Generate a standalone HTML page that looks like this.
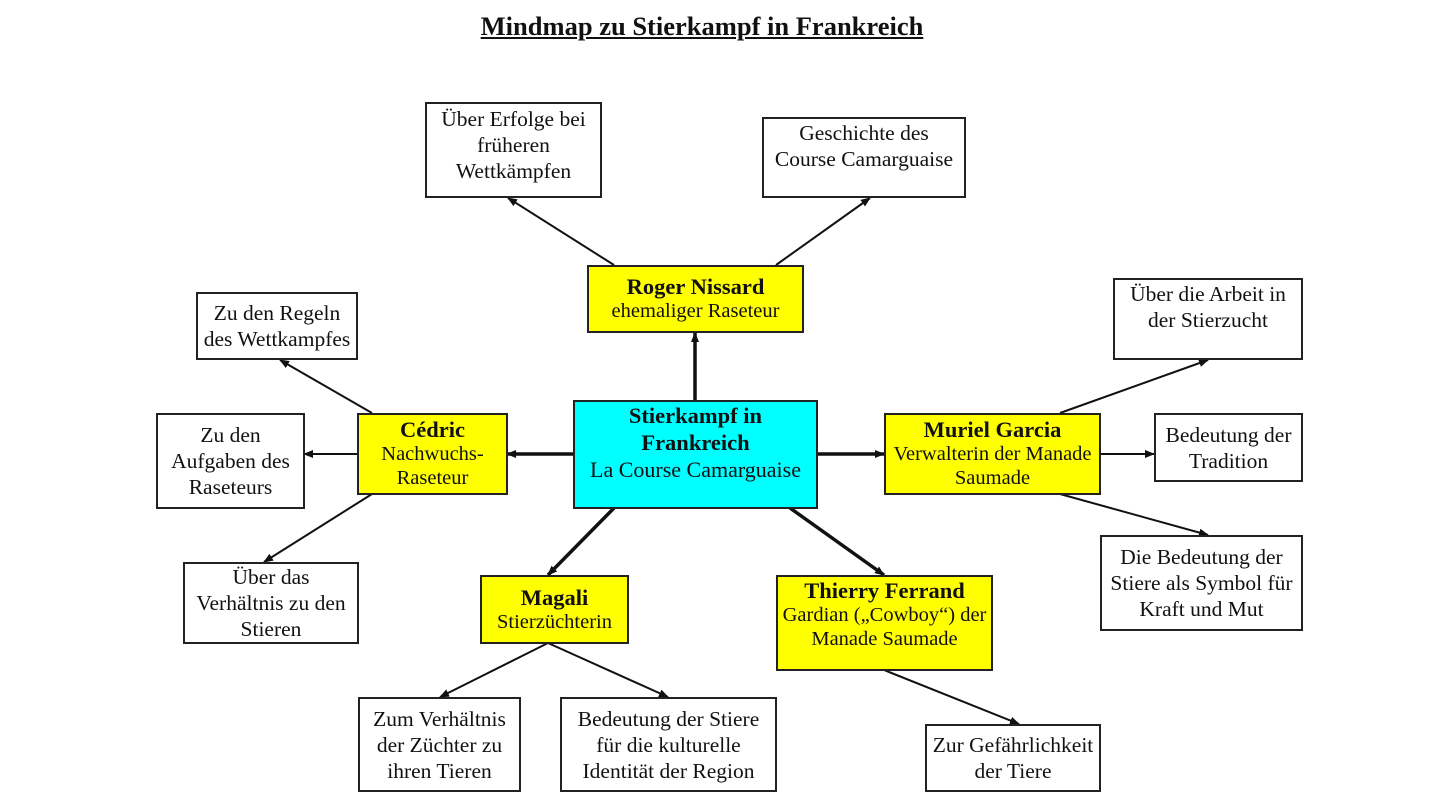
<!DOCTYPE html>
<html><head><meta charset="utf-8">
<style>
html,body{margin:0;padding:0;background:#fff;}
body{width:1440px;height:810px;position:relative;overflow:hidden;font-family:"Liberation Serif",serif;color:#111;}
.b{position:absolute;box-sizing:border-box;border:2px solid #222;background:#fff;display:flex;flex-direction:column;justify-content:center;align-items:center;text-align:center;font-size:21.5px;line-height:26px;white-space:nowrap;}
.y{background:#ffff00;font-size:20.5px;line-height:24px;}
.c{background:#00ffff;font-size:22px;line-height:27px;}
.b b{font-size:22.5px;}
.top{justify-content:flex-start;padding-top:0px;}
svg{position:absolute;left:0;top:0;}
.t{position:absolute;left:470px;top:11px;width:464px;text-align:center;font-weight:bold;font-size:26.5px;text-decoration:underline;}
</style></head><body>
<svg width="1440" height="810">
<defs>
<marker id="a" markerWidth="10" markerHeight="8" refX="9" refY="4" orient="auto" markerUnits="userSpaceOnUse"><path d="M0,0 L10,4 L0,8 z" fill="#111"/></marker>
</defs>
<g stroke="#111" stroke-width="2" fill="none" marker-end="url(#a)">
<line x1="614" y1="265" x2="508" y2="198"/>
<line x1="776" y1="265" x2="870" y2="198"/>
<line x1="372" y1="413" x2="280" y2="360"/>
<line x1="357" y1="454" x2="304" y2="454"/>
<line x1="372" y1="494" x2="264" y2="562"/>
<line x1="1060" y1="413" x2="1208" y2="360"/>
<line x1="1100" y1="454" x2="1154" y2="454"/>
<line x1="1060" y1="494" x2="1208" y2="535"/>
<line x1="548" y1="643" x2="440" y2="697"/>
<line x1="548" y1="643" x2="668" y2="697"/>
<line x1="884" y1="670" x2="1019" y2="724"/>
</g>
<g stroke="#111" stroke-width="3.5" fill="none" marker-end="url(#a)">
<line x1="695" y1="400" x2="695" y2="333"/>
<line x1="573" y1="454" x2="507" y2="454"/>
<line x1="817" y1="454" x2="884" y2="454"/>
<line x1="614" y1="508" x2="548" y2="575"/>
<line x1="790" y1="508" x2="884" y2="575"/>
</g>
</svg>
<div class="t">Mindmap zu Stierkampf in Frankreich</div>
<div class="b top" style="left:425px;top:102px;width:177px;height:96px;padding-top:2px;">Über Erfolge bei<br>früheren<br>Wettkämpfen</div>
<div class="b top" style="left:762px;top:117px;width:204px;height:81px;padding-top:1px;">Geschichte des<br>Course Camarguaise</div>
<div class="b y" style="left:587px;top:265px;width:217px;height:68px;"><b>Roger Nissard</b>ehemaliger Raseteur</div>
<div class="b" style="left:196px;top:292px;width:162px;height:68px;">Zu den Regeln<br>des Wettkampfes</div>
<div class="b top" style="left:1113px;top:278px;width:190px;height:82px;padding-top:1px;">Über die Arbeit in<br>der Stierzucht</div>
<div class="b" style="left:156px;top:413px;width:149px;height:96px;">Zu den<br>Aufgaben des<br>Raseteurs</div>
<div class="b y" style="left:357px;top:413px;width:151px;height:82px;"><b>Cédric</b>Nachwuchs-<br>Raseteur</div>
<div class="b c top" style="left:573px;top:400px;width:245px;height:109px;padding-top:0px;"><b>Stierkampf in<br>Frankreich</b>La Course Camarguaise</div>
<div class="b y" style="left:884px;top:413px;width:217px;height:82px;"><b>Muriel Garcia</b>Verwalterin der Manade<br>Saumade</div>
<div class="b" style="left:1154px;top:413px;width:149px;height:69px;">Bedeutung der<br>Tradition</div>
<div class="b" style="left:1100px;top:535px;width:203px;height:96px;">Die Bedeutung der<br>Stiere als Symbol für<br>Kraft und Mut</div>
<div class="b" style="left:183px;top:562px;width:176px;height:82px;">Über das<br>Verhältnis zu den<br>Stieren</div>
<div class="b y" style="left:480px;top:575px;width:149px;height:69px;"><b>Magali</b>Stierzüchterin</div>
<div class="b y top" style="left:776px;top:575px;width:217px;height:96px;padding-top:2px;"><b>Thierry Ferrand</b>Gardian („Cowboy“) der<br>Manade Saumade</div>
<div class="b" style="left:358px;top:697px;width:163px;height:95px;">Zum Verhältnis<br>der Züchter zu<br>ihren Tieren</div>
<div class="b" style="left:560px;top:697px;width:217px;height:95px;">Bedeutung der Stiere<br>für die kulturelle<br>Identität der Region</div>
<div class="b" style="left:925px;top:724px;width:176px;height:68px;">Zur Gefährlichkeit<br>der Tiere</div>
</body></html>
